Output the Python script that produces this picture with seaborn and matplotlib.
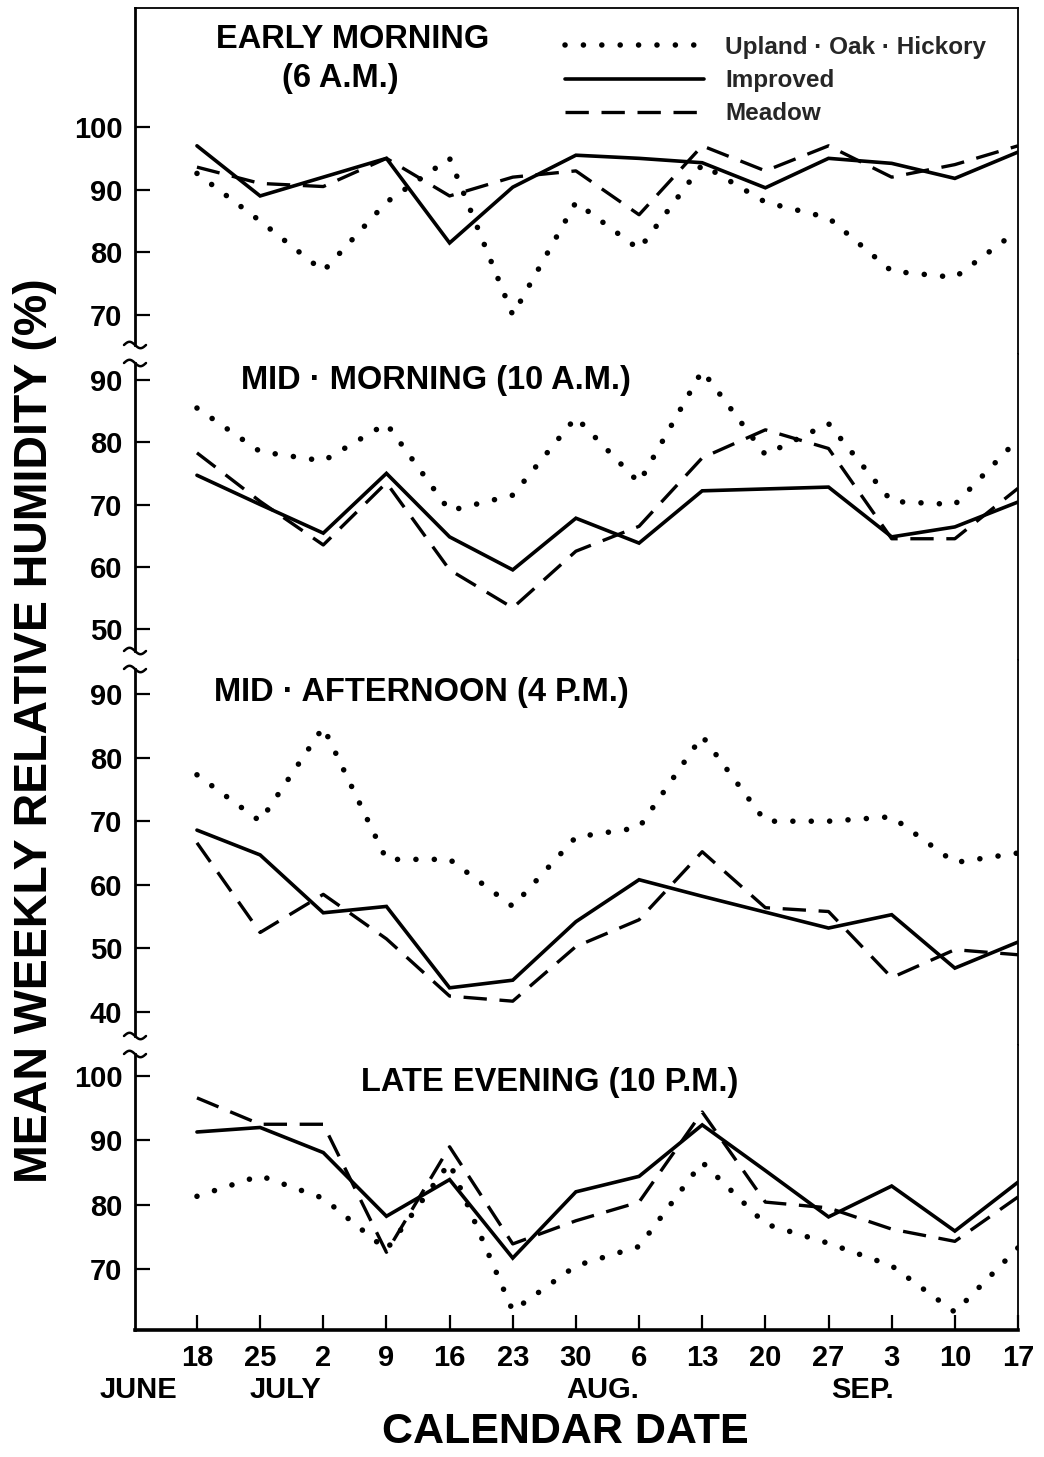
import numpy as np
import matplotlib
matplotlib.use("Agg")
import matplotlib.pyplot as plt
import seaborn as sns

# ---------------- data ----------------
dates = ["18", "25", "2", "9", "16", "23", "30", "6", "13", "20", "27", "3", "10", "17"]
months = ["JUNE", "JULY", "AUG.", "SEP."]
series_names = ["Upland · Oak · Hickory", "Improved", "Meadow"]

early_upland = [92.6, 85, 77, 88, 95, 70, 88, 80.5, 94, 88, 85.5, 77, 76, 83.5]
early_improved = [97, 89, 92, 95, 81.5, 90.4, 95.5, 95, 94.3, 90.3, 95, 94.2, 91.8, 96]
early_meadow = [93.6, 91, 90.5, 95, 89, 92, 93, 86, 97, 93, 97, 92, 94, 97]

midmorn_upland = [85.5, 78.5, 77, 83, 69, 71.5, 84, 73.5, 91.5, 78, 83, 70.5, 70, 80.5]
midmorn_improved = [74.7, 70, 65.4, 75, 64.8, 59.5, 67.8, 63.8, 72.2, 72.5, 72.8, 64.8, 66.4, 70.4]
midmorn_meadow = [78.3, 70.5, 63.5, 73.5, 59.5, 53.4, 62.5, 66.5, 77.5, 82, 79, 64.5, 64.5, 72.6]

midaft_upland = [77.3, 70, 84.8, 64, 64, 56.6, 67.5, 69, 83.4, 70, 70, 70.7, 63.5, 65]
midaft_improved = [68.6, 64.7, 55.6, 56.6, 43.8, 45, 54.2, 60.8, 58.2, 55.7, 53.2, 55.3, 46.9, 51]
midaft_meadow = [66.6, 52.5, 58.5, 51.5, 42.5, 41.7, 50.3, 54.5, 65.2, 56.4, 55.8, 45.4, 49.8, 49]

late_upland = [81.3, 84.5, 81, 73, 86.5, 63.5, 70.5, 73.5, 86.6, 77, 74, 70.5, 63.3, 73.3]
late_improved = [91.3, 92, 88.1, 78.2, 83.9, 71.7, 82, 84.4, 92.4, 85.3, 78.1, 82.9, 75.9, 83.5]
late_meadow = [96.6, 92.5, 92.5, 72.6, 89, 73.9, 77.5, 80.4, 94.4, 80.4, 79.5, 76.2, 74.3, 81.2]

panel_ticks = [[70, 80, 90, 100], [50, 60, 70, 80, 90], [40, 50, 60, 70, 80, 90], [70, 80, 90, 100]]

# ---------------- style ----------------
sns.set_theme(style="ticks")
plt.rcParams['font.family'] = ['Liberation Sans', 'DejaVu Sans']
plt.rcParams['font.weight'] = 'bold'

W, Hfig = 1044, 1457
fig = plt.figure(figsize=(W / 100, Hfig / 100), dpi=100)
fig.patch.set_facecolor('white')

L_PX, R_PX, T_PX, B_PX = 135, 1018, 8, 1330
H = [346, 306, 385, 285]
gs = fig.add_gridspec(4, 1, height_ratios=H, hspace=0,
                      left=L_PX / W, right=R_PX / W,
                      top=1 - T_PX / Hfig, bottom=1 - B_PX / Hfig)
axes = [fig.add_subplot(gs[i]) for i in range(4)]

ylims = [(63.78, 118.99), (45.02, 94.18), (34.81, 95.35), (60.52, 104.82)]
data = [
    (early_upland, early_improved, early_meadow),
    (midmorn_upland, midmorn_improved, midmorn_meadow),
    (midaft_upland, midaft_improved, midaft_meadow),
    (late_upland, late_improved, late_meadow),
]

styles = [
    dict(linestyle=(0, (0.01, 3.3)), lw=4.0, dash_capstyle='round'),
    dict(linestyle='-', lw=2.6, solid_joinstyle='miter'),
    dict(linestyle=(0, (7.0, 3.8)), lw=2.4, dash_capstyle='butt'),
]

x = np.arange(len(dates))
xlim = ((L_PX - 197) / 63.2, 13.0)
gap_px = 9
axw_px = R_PX - L_PX

for i, (ax, vals, ylim, ticks) in enumerate(zip(axes, data, ylims, panel_ticks)):
    for name, v, st in zip(series_names, vals, styles):
        sns.lineplot(x=x, y=v, ax=ax, color='black', errorbar=None,
                     label=name if i == 0 else None, **st)
    if ax.get_legend() is not None:
        ax.get_legend().remove()
    ax.set_xlim(*xlim)
    ax.set_ylim(*ylim)
    ax.set_yticks(ticks)
    ax.set_yticklabels([str(t) for t in ticks])
    ax.set_xlabel('')
    ax.set_ylabel('')
    ax.set_facecolor('white')
    ax.tick_params(axis='y', direction='in', length=11, width=1.6, pad=9,
                   labelsize=21, colors='black')
    for s in ax.spines.values():
        s.set_color('black')
    ax.spines['left'].set_linewidth(2.0)
    ax.spines['right'].set_linewidth(1.3)
    ax.spines['top'].set_linewidth(1.3)
    ax.spines['bottom'].set_linewidth(2.6)
    ax.spines['top'].set_visible(i == 0)
    ax.spines['bottom'].set_visible(i == 3)
    pxu = H[i] / (ylim[1] - ylim[0])
    lo = ylim[0] + (gap_px / pxu if i < 3 else 0)
    hi = ylim[1] - (gap_px / pxu if i > 0 else 0)
    ax.spines['left'].set_bounds(lo, hi)
    # break marks (tildes)
    xs = np.linspace(-11, 11, 40)
    ys = 3.2 * np.sin(-np.pi * xs / 11)
    if i < 3:
        y0 = gap_px / H[i]
        ax.plot(xs / axw_px, y0 + ys / H[i], color='black', lw=1.8,
                transform=ax.transAxes, clip_on=False)
    if i > 0:
        y0 = 1 - gap_px / H[i]
        ax.plot(xs / axw_px, y0 + ys / H[i], color='black', lw=1.8,
                transform=ax.transAxes, clip_on=False)
    if i < 3:
        ax.tick_params(axis='x', bottom=False, labelbottom=False)
    else:
        ax.set_xticks(x)
        ax.set_xticklabels(dates)
        ax.tick_params(axis='x', direction='in', length=11, width=1.6, pad=10,
                       labelsize=21, colors='black')

# legend
handles, labels = axes[0].get_legend_handles_labels()
fig.legend(handles, labels, loc='upper left', bbox_to_anchor=(565 / W, 1 - 36 / Hfig),
           bbox_transform=fig.transFigure, frameon=False, fontsize=17.5,
           handlelength=5.7, handletextpad=0.9, labelspacing=0.42,
           borderpad=0, borderaxespad=0)


def ftext(px, py, s, **kw):
    fig.text(px / W, 1 - py / Hfig, s, ha='center', va='center', color='black',
             fontweight='bold', **kw)


# panel titles
ftext(353, 40, "EARLY MORNING", fontsize=23.5)
ftext(340, 78, "(6 A.M.)", fontsize=23.5)
ftext(436, 381, "MID · MORNING (10 A.M.)", fontsize=23.5)
ftext(421, 693, "MID · AFTERNOON (4 P.M.)", fontsize=23.5)
ftext(550, 1082, "LATE EVENING (10 P.M.)", fontsize=23.5)

# month labels
for m, px in zip(months, [138, 285, 603, 863]):
    ftext(px, 1390, m, fontsize=21)

# axis titles
ftext(565, 1432, "CALENDAR DATE", fontsize=31)
ftext(35, 731, "MEAN WEEKLY RELATIVE HUMIDITY (%)", fontsize=33.5, rotation=90)

fig.savefig("out.png", dpi=100, facecolor='white')
